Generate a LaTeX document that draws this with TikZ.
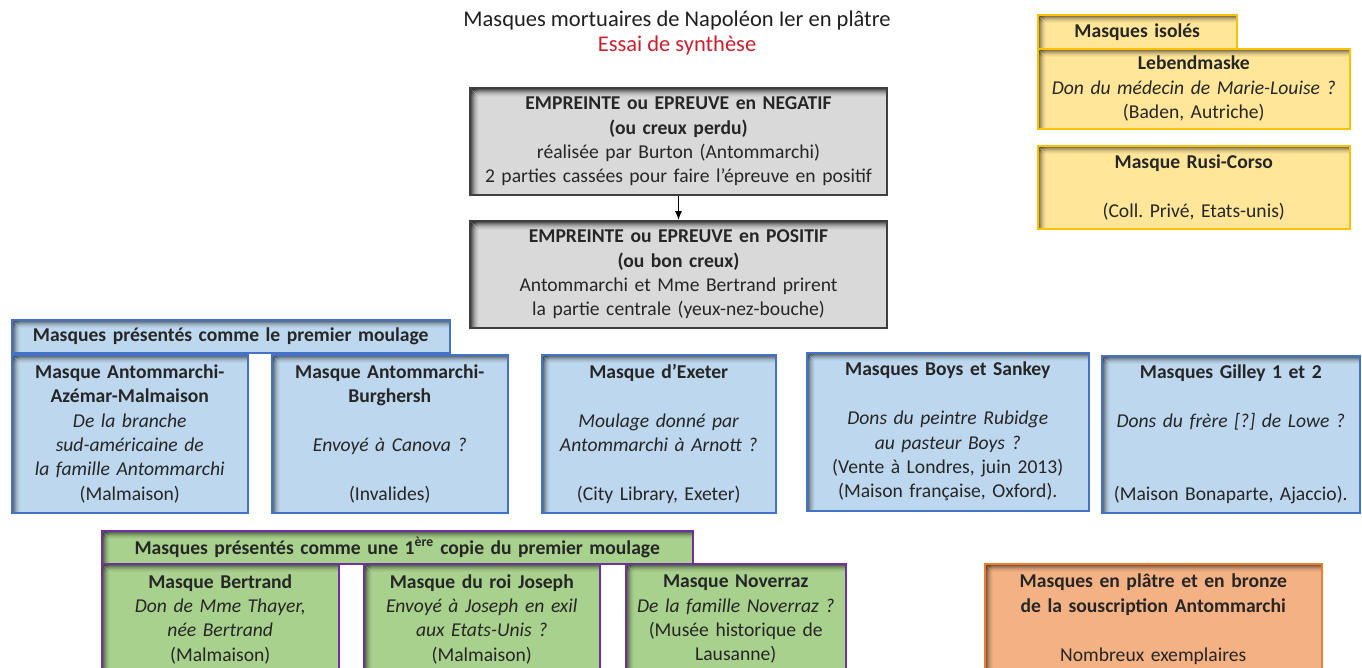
\documentclass[tikz,border=0pt]{standalone}
\usepackage{fontspec}
\setmainfont{Carlito}
\frenchspacing
\usetikzlibrary{arrows.meta}
\definecolor{greyfill}{HTML}{D9D9D9}\definecolor{greyline}{HTML}{3F3F3F}
\definecolor{bluefill}{HTML}{BDD7EE}\definecolor{blueline}{HTML}{4472C4}
\definecolor{yelfill}{HTML}{FFE699}\definecolor{yelline}{HTML}{FFC000}
\definecolor{grnfill}{HTML}{A9D18E}\definecolor{grnline}{HTML}{7030A0}
\definecolor{orgfill}{HTML}{F4B183}\definecolor{orgline}{HTML}{ED7D31}
\definecolor{titlered}{HTML}{C8202E}
\tikzset{
  maskbox/.style 2 args={draw=#1,fill=#2,line width=1.5pt,align=center,
    anchor=north west,inner xsep=0pt,inner ysep=2pt,text=black!85,
    font=\fontsize{19.6}{24.4}\selectfont,
    path picture={
      \foreach \d/\o in {1/.60,2/.48,3/.37,4/.27,5/.19,6/.12,7/.07,8/.03}{
        \draw[black,opacity=\o,line width=1pt]
          ([xshift=\d pt]path picture bounding box.north west) -- ([xshift=\d pt]path picture bounding box.south west)
          ([yshift=-\d pt]path picture bounding box.north west) -- ([yshift=-\d pt]path picture bounding box.north east);}}},
  greybox/.style={maskbox={greyline}{greyfill},line width=2pt},
  bluebox/.style={maskbox={blueline}{bluefill}},
  yelbox/.style={maskbox={yelline}{yelfill}},
  grnbox/.style={maskbox={grnline}{grnfill}},
  orgbox/.style={maskbox={orgline}{orgfill}},
}
\begin{document}
\begin{tikzpicture}[x=1pt,y=-1pt,>={Latex[length=9pt,width=7pt]}]
\useasboundingbox (0,0) rectangle (1362,667);
\node[align=center,font=\fontsize{22.5}{25}\selectfont,text=black!88] (title) at (677,32.5)
  {Masques mortuaires de Napoléon Ier en plâtre\\\textcolor{titlered}{Essai de synthèse}};

\node[greybox,text width=417,minimum height=107] (neg) at (469,87)
  {\textbf{EMPREINTE ou EPREUVE en NEGATIF}\\\textbf{(ou creux perdu)}\\réalisée par Burton (Antommarchi)\\2 parties cassées pour faire l’épreuve en positif};
\node[greybox,text width=417,minimum height=107] (pos) at (469,220)
  {\textbf{EMPREINTE ou EPREUVE en POSITIF}\\\textbf{(ou bon creux)}\\Antommarchi et Mme Bertrand prirent\\la partie centrale (yeux-nez-bouche)};
\draw[->,line width=1pt] (neg) -- (pos);

\node[yelbox,text width=199,minimum height=34] (isoles) at (1037,14) {\textbf{Masques isolés}};
\node[yelbox,text width=312,minimum height=80] (lebend) at (1037,48)
  {\textbf{Lebendmaske}\\\textit{Don du médecin de Marie-Louise ?}\\(Baden, Autriche)};
\node[yelbox,text width=312,minimum height=83] (rusi) at (1037,145)
  {\textbf{Masque Rusi-Corso}\\~\\(Coll. Privé, Etats-unis)};

\node[bluebox,text width=438,minimum height=33] (premier) at (11,319) {\textbf{Masques présentés comme le premier moulage}};
\node[bluebox,text width=236,minimum height=158] (azemar) at (11,354)
  {\textbf{Masque Antommarchi-}\\\textbf{Azémar-Malmaison}\\\textit{De la branche}\\\textit{sud-américaine de}\\\textit{la famille Antommarchi}\\(Malmaison)};
\node[bluebox,text width=236,minimum height=158] (burghersh) at (271,354)
  {\textbf{Masque Antommarchi-}\\\textbf{Burghersh}\\~\\\textit{Envoyé à Canova ?}\\~\\(Invalides)};
\node[bluebox,text width=234,minimum height=158] (exeter) at (541,354)
  {\textbf{Masque d’Exeter}\\~\\\textit{Moulage donné par}\\\textit{Antommarchi à Arnott ?}\\~\\(City Library, Exeter)};
\node[bluebox,text width=282,minimum height=158] (boys) at (806,352)
  {\textbf{Masques Boys et Sankey}\\~\\\textit{Dons du peintre Rubidge}\\\textit{au pasteur Boys ?}\\(Vente à Londres, juin 2013)\\(Maison française, Oxford).};
\node[bluebox,text width=258,minimum height=157] (gilley) at (1101,355)
  {\textbf{Masques Gilley 1 et 2}\\~\\\textit{Dons du frère [?] de Lowe ?}\\~\\~\\(Maison Bonaparte, Ajaccio).};

\node[grnbox,text width=591,minimum height=33] (copie) at (101,530)
  {\textbf{Masques présentés comme une 1\textsuperscript{ère} copie du premier moulage}};
\node[grnbox,text width=237,minimum height=111] (bertrand) at (101,563)
  {\textbf{Masque Bertrand}\\\textit{Don de Mme Thayer,}\\\textit{née Bertrand}\\(Malmaison)};
\node[grnbox,text width=236,minimum height=111] (joseph) at (363,563)
  {\textbf{Masque du roi Joseph}\\\textit{Envoyé à Joseph en exil}\\\textit{aux Etats-Unis ?}\\(Malmaison)};
\node[grnbox,text width=220,minimum height=111] (noverraz) at (625,563)
  {\textbf{Masque Noverraz}\\\textit{De la famille Noverraz ?}\\(Musée historique de\\Lausanne)};

\node[orgbox,text width=337,minimum height=111] (souscription) at (984,563)
  {\textbf{Masques en plâtre et en bronze}\\\textbf{de la souscription Antommarchi}\\~\\Nombreux exemplaires};
\end{tikzpicture}
\end{document}
